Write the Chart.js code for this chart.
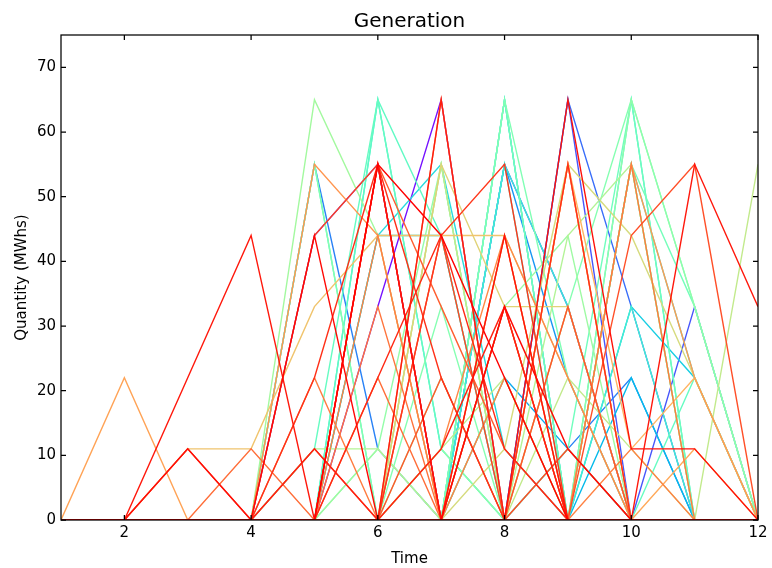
<!DOCTYPE html>
<html><head><meta charset="utf-8">
<script src="https://cdn.jsdelivr.net/npm/chart.js@4.4.1/dist/chart.umd.min.js"></script>
<style>html,body{margin:0;padding:0;background:#fff}#wrap{width:772px;height:568px}</style>
</head><body><div id="wrap"><canvas id="c" width="772" height="568"></canvas></div>
<script>
// ---- data ----
const times = [1,2,3,4,5,6,7,8,9,10,11,12];
const xTickValues = [2,4,6,8,10,12];
const yTickValues = [0,10,20,30,40,50,60,70];

const g01 = [0,0,0,0,0,33,65,0,0,0,0,0];
const g02 = [0,0,0,0,44,55,0,0,0,0,0,0];
const g03 = [0,0,0,0,0,0,0,55,33,0,0,0];
const g04 = [0,0,0,0,0,0,0,0,65,0,33,0];
const g05 = [0,0,0,0,0,0,0,0,65,33,0,0];
const g06 = [0,0,0,0,55,11,0,0,11,22,0,0];
const g07 = [0,0,0,0,0,0,0,55,22,0,0,0];
const g08 = [0,0,0,0,0,0,0,22,11,0,0,0];
const g09 = [0,0,0,0,0,0,0,65,0,0,0,0];
const g10 = [0,0,0,0,0,44,44,0,0,33,22,0];
const g11 = [0,0,0,0,0,44,55,11,0,0,0,0];
const g12 = [0,0,0,0,0,0,0,55,33,0,0,0];
const g13 = [0,0,0,0,0,65,11,0,0,65,0,0];
const g14 = [0,0,0,0,55,0,0,65,0,55,0,0];
const g15 = [0,0,0,0,11,65,11,0,0,0,22,0];
const g16 = [0,0,0,0,0,0,0,65,0,55,33,0];
const g17 = [0,0,0,0,55,0,33,0,33,65,33,0];
const g18 = [0,0,0,0,0,11,55,0,0,55,0,0];
const g19 = [0,0,0,0,65,44,0,22,0,0,0,0];
const g20 = [0,0,0,0,11,11,0,0,44,55,0,0];
const g21 = [0,0,0,0,0,0,55,0,22,11,0,55];
const g22 = [0,0,0,0,0,0,0,11,55,44,22,0];
const g23 = [0,0,0,0,0,0,55,33,33,0,0,0];
const g24 = [0,0,11,11,33,44,44,44,0,0,0,0];
const g25 = [0,0,0,0,0,0,0,0,55,11,22,0];
const g26 = [0,22,0,0,0,0,0,0,33,0,0,0];
const g27 = [0,0,0,0,55,44,0,0,55,0,0,0];
const g28 = [0,0,0,0,0,0,11,44,22,0,0,0];
const g29 = [0,0,0,0,22,0,65,0,0,55,0,0];
const g30 = [0,0,0,11,0,22,0,33,0,0,0,0];
const g31 = [0,0,0,0,0,55,33,11,0,0,0,0];
const g32 = [0,0,0,0,0,0,0,0,0,44,55,0];
const g33 = [0,0,0,0,11,0,44,0,11,0,0,0];
const g34 = [0,0,0,0,44,55,0,33,0,0,0,0];
const g35 = [0,0,0,0,0,0,44,55,0,0,0,0];
const g36 = [0,0,11,0,22,55,22,0,55,0,0,0];
const g37 = [0,0,0,0,0,22,44,11,0,0,0,0];
const g38 = [0,0,0,0,11,0,11,33,0,0,0,0];
const g39 = [0,0,22,44,0,0,0,0,0,0,55,33];
const g40 = [0,0,11,0,0,55,0,0,65,11,11,0];
const g41 = [0,0,0,0,44,0,0,33,11,0,0,0];
const g42 = [0,0,0,0,0,55,44,22,0,0,0,0];
const g43 = [0,0,0,0,0,0,65,0,0,0,0,0];
const g44 = [0,0,0,0,0,55,0,44,0,0,0,0];
const g45 = [0,0,0,0,0,65,44,0,0,0,0,0];
const g46 = [0,0,0,0,0,0,55,0,11,65,0,0];
const g47 = [0,0,0,0,0,0,0,65,22,0,0,0];
const g48 = [0,0,0,0,0,0,11,0,0,65,33,0];
const g49 = [0,0,0,0,0,11,0,33,44,0,0,0];
const g50 = [0,0,0,0,0,0,22,0,11,0,0,0];
const g51 = [0,0,0,0,0,0,11,22,0,0,0,0];
const g52 = [0,0,0,0,0,0,0,0,0,55,22,0];
const g53 = [0,0,0,0,0,0,0,55,0,33,0,0];
const g54 = [0,0,0,0,0,0,0,0,0,22,0,0];
const g55 = [0,0,0,0,0,0,0,0,55,0,11,0];
const g56 = [0,0,0,0,0,0,0,0,0,55,22,0];
const g57 = [0,0,0,0,0,33,0,44,0,0,0,0];
const g58 = [0,0,0,0,0,0,22,0,33,0,0,0];
const g59 = [0,0,0,0,0,44,0,22,0,11,0,0];
const g60 = [0,0,0,0,0,0,0,44,22,0,0,0];

const seriesList = [g01,g02,g03,g04,g05,g06,g07,g08,g09,g10,g11,g12,g13,g14,g15,g16,g17,g18,g19,g20,
  g21,g22,g23,g24,g25,g26,g27,g28,g29,g30,g31,g32,g33,g34,g35,g36,g37,g38,g39,g40,
  g41,g42,g43,g44,g45,g46,g47,g48,g49,g50,g51,g52,g53,g54,g55,g56,g57,g58,g59,g60];

// ---- style: position of each series on the rainbow colormap ----
const colorPos = [0.02,0.06,0.09,0.11,0.14,0.17,0.20,0.23,0.27,0.30,0.33,0.36,0.39,0.42,0.45,0.48,0.51,0.54,0.57,0.60,
  0.63,0.67,0.69,0.72,0.75,0.78,0.80,0.82,0.84,0.86,0.88,0.90,0.91,0.92,0.93,0.94,0.95,0.96,0.97,0.98,
  0.99,1.0,0.965,0.975,0.44,0.47,0.50,0.53,0.56,0.59,0.62,0.35,0.38,0.26,0.77,0.79,0.85,0.89,0.83,0.70];

function rainbow(t){
  const c = v => Math.max(0, Math.min(1, v));
  const r = c(Math.abs(2*t - 0.5)), g = c(Math.sin(Math.PI*t)), b = c(Math.cos(Math.PI*t/2));
  return `rgb(${Math.round(r*255)},${Math.round(g*255)},${Math.round(b*255)})`;
}

const boxPlugin = {
  id: 'box',
  afterDatasetsDraw(chart){
    const {ctx, chartArea: a, scales: {x, y}} = chart;
    ctx.save();
    ctx.strokeStyle = '#000';
    ctx.lineWidth = 1.25;
    ctx.strokeRect(a.left, a.top, a.right - a.left, a.bottom - a.top);
    const L = 5;
    ctx.beginPath();
    xTickValues.forEach(v => {
      const px = x.getPixelForValue(v);
      ctx.moveTo(px, a.bottom); ctx.lineTo(px, a.bottom - L);
      ctx.moveTo(px, a.top); ctx.lineTo(px, a.top + L);
    });
    yTickValues.forEach(v => {
      const py = y.getPixelForValue(v);
      ctx.moveTo(a.left, py); ctx.lineTo(a.left + L, py);
      ctx.moveTo(a.right, py); ctx.lineTo(a.right - L, py);
    });
    ctx.stroke();
    ctx.restore();
  }
};

Chart.defaults.font.family = "'DejaVu Sans', sans-serif";
Chart.defaults.color = '#000';

new Chart(document.getElementById('c'), {
  type: 'line',
  data: {
    datasets: seriesList.map((vals, i) => ({
      data: vals.map((v, j) => ({x: times[j], y: v})),
      borderColor: rainbow(colorPos[i]),
      backgroundColor: rainbow(colorPos[i]),
      borderWidth: 1.4,
      pointRadius: 0,
      tension: 0,
      fill: false,
      order: Math.round((1 - colorPos[i]) * 1000)
    }))
  },
  options: {
    responsive: false,
    animation: false,
    devicePixelRatio: 1,
    layout: {padding: {left: 0, right: 14, top: 0, bottom: 0}},
    plugins: {
      legend: {display: false},
      tooltip: {enabled: false},
      title: {display: true, fullSize: false, text: 'Generation', color: '#000',
        font: {size: 20, weight: 'normal'}, padding: {top: 9.5, bottom: 1.5}}
    },
    scales: {
      x: {
        type: 'linear', min: 1, max: 12,
        afterBuildTicks: s => { s.ticks = xTickValues.map(v => ({value: v})); },
        afterFit: s => { s.height = 48; },
        grid: {display: false, drawTicks: false},
        border: {display: false},
        ticks: {font: {size: 15}, color: '#000', padding: 4, maxRotation: 0, autoSkip: false},
        title: {display: true, text: 'Time', color: '#000', font: {size: 15}, padding: {top: 3, bottom: 0}}
      },
      y: {
        type: 'linear', min: 0, max: 75,
        afterBuildTicks: s => { s.ticks = yTickValues.map(v => ({value: v})); },
        afterFit: s => { s.width = 61; },
        grid: {display: false, drawTicks: false},
        border: {display: false},
        ticks: {font: {size: 15}, color: '#000', padding: 5, autoSkip: false},
        title: {display: true, text: 'Quantity (MWhs)', color: '#000', font: {size: 15}, padding: {top: 13, bottom: 0}}
      }
    }
  },
  plugins: [boxPlugin]
});
</script>
</body></html>
